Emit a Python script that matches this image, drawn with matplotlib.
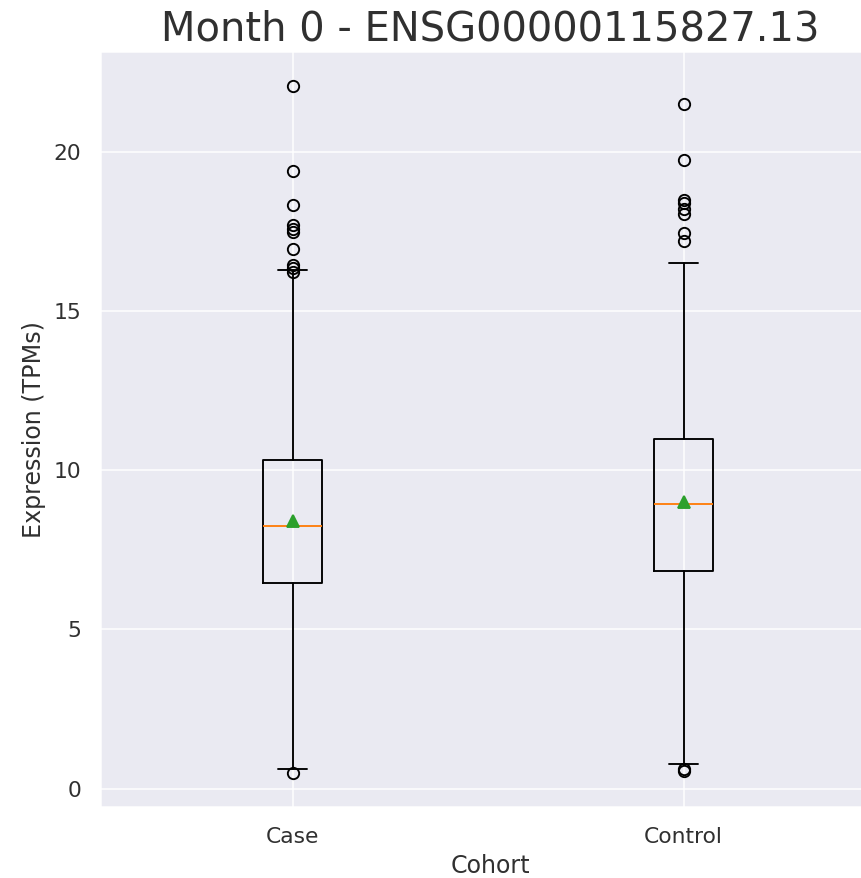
import matplotlib
matplotlib.use('Agg')
import matplotlib.pyplot as plt
import seaborn as sns

cohorts = ['Case', 'Control']
q1 = [6.45, 6.85]
median = [8.26, 8.95]
q3 = [10.33, 10.99]
mean = [8.42, 9.0]
whisker_lo = [0.63, 0.78]
whisker_hi = [16.3, 16.53]
fliers_case = [22.07, 19.4, 18.34, 17.7, 17.6, 17.5, 16.96, 16.45, 16.35, 16.25, 0.5]
fliers_control = [21.5, 19.75, 18.5, 18.4, 18.2, 18.05, 17.45, 17.2, 0.6, 0.55]

sns.set_style('darkgrid')
plt.rcParams['font.family'] = ['DejaVu Sans']

stats = []
for i, name in enumerate(cohorts):
    stats.append({
        'label': name,
        'q1': q1[i], 'med': median[i], 'q3': q3[i], 'mean': mean[i],
        'whislo': whisker_lo[i], 'whishi': whisker_hi[i],
        'fliers': [fliers_case, fliers_control][i],
    })

dpi = 136
fig = plt.figure(figsize=(861 / dpi, 878 / dpi), dpi=dpi)
# the axes runs past the right edge of the picture, as in the reference
ax = fig.add_axes([101 / 861, 1 - 807 / 878, 778 / 861, 755 / 878])
ax.bxp(stats, showmeans=True,
       medianprops=dict(color='#ff7f0e'),
       meanprops=dict(marker='^', markerfacecolor='#2ca02c', markeredgecolor='#2ca02c'))
ax.set_xlim(0.51, 2.5)
ax.set_title('Month 0 - ENSG00000115827.13', fontsize=21.2, color='#303030')
ax.set_xlabel('Cohort', fontsize=12.6, color='#303030')
ax.set_ylabel('Expression (TPMs)', fontsize=12.6, color='#303030')
ax.tick_params(labelsize=11.5, colors='#303030', pad=7)
ax.set_yticks([0, 5, 10, 15, 20])
fig.savefig('out.png', dpi=dpi)
